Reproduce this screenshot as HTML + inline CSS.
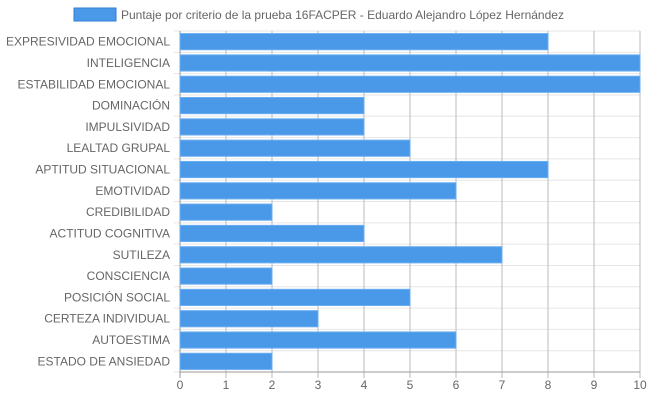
<!DOCTYPE html>
<html><head><meta charset="utf-8"><style>
body{margin:0;background:#fff;font-family:"Liberation Sans",Arial,sans-serif}
</style></head><body>
<svg id="chart" width="650" height="400" xmlns="http://www.w3.org/2000/svg" font-family="Liberation Sans, Arial, sans-serif">
<g>
<rect x="74" y="8" width="42" height="13" fill="#4a98e8" stroke="#2f7fd6" stroke-width="1"/>
<text x="121" y="19" font-size="12" fill="#666">Puntaje por criterio de la prueba 16FACPER - Eduardo Alejandro López Hernández</text>
</g>
<g id="grid"></g><g id="bars"></g><g id="labels"></g>
</svg>
<script>
const categories=["EXPRESIVIDAD EMOCIONAL","INTELIGENCIA","ESTABILIDAD EMOCIONAL","DOMINACIÓN","IMPULSIVIDAD","LEALTAD GRUPAL","APTITUD SITUACIONAL","EMOTIVIDAD","CREDIBILIDAD","ACTITUD COGNITIVA","SUTILEZA","CONSCIENCIA","POSICIÓN SOCIAL","CERTEZA INDIVIDUAL","AUTOESTIMA","ESTADO DE ANSIEDAD"];
const values=[8,10,10,4,4,5,8,6,2,4,7,2,5,3,6,2];
const ticks=[0,1,2,3,4,5,6,7,8,9,10];
const NS="http://www.w3.org/2000/svg";
const L=180,R=640,T=31,B=372;
const x=v=>L+(v-ticks[0])/(ticks[ticks.length-1]-ticks[0])*(R-L);
const band=(B-T)/categories.length;
const y=i=>T+i*band;
function mk(tag,attrs,parent){const e=document.createElementNS(NS,tag);for(const k in attrs)e.setAttribute(k,attrs[k]);document.getElementById(parent).appendChild(e);return e;}
for(let i=0;i<=categories.length;i++){
 const l=mk('line',{x1:L-6,x2:R,y1:y(i),y2:y(i),stroke:'#e6e6e6'},'grid');
 
 
}
ticks.forEach(t=>{
 const l=mk('line',{x1:x(t),x2:x(t),y1:T,y2:B+6,stroke:t===0?'#999':'#bbb'},'grid');
 
 
 const tx=mk('text',{x:x(t),y:B+17,'text-anchor':'middle','font-size':12,fill:'#666'},'labels');
 tx.textContent=t;
 
 
});
mk('line',{x1:L,x2:R,y1:B,y2:B,stroke:'#999'},'grid');
categories.forEach((c,i)=>{
 const bh=band*0.76;
 const r=mk('rect',{x:x(0),y:y(i)+(band-bh)/2,width:x(values[i])-x(0),height:bh,fill:'#4a98e8',stroke:'#6aaef0','stroke-width':1},'bars');
 
 
 const tx=mk('text',{x:L-10,y:y(i)+band/2+4,'text-anchor':'end','font-size':12,fill:'#666'},'labels');
 tx.textContent=c;
 
 
});
</script>
</body></html>
